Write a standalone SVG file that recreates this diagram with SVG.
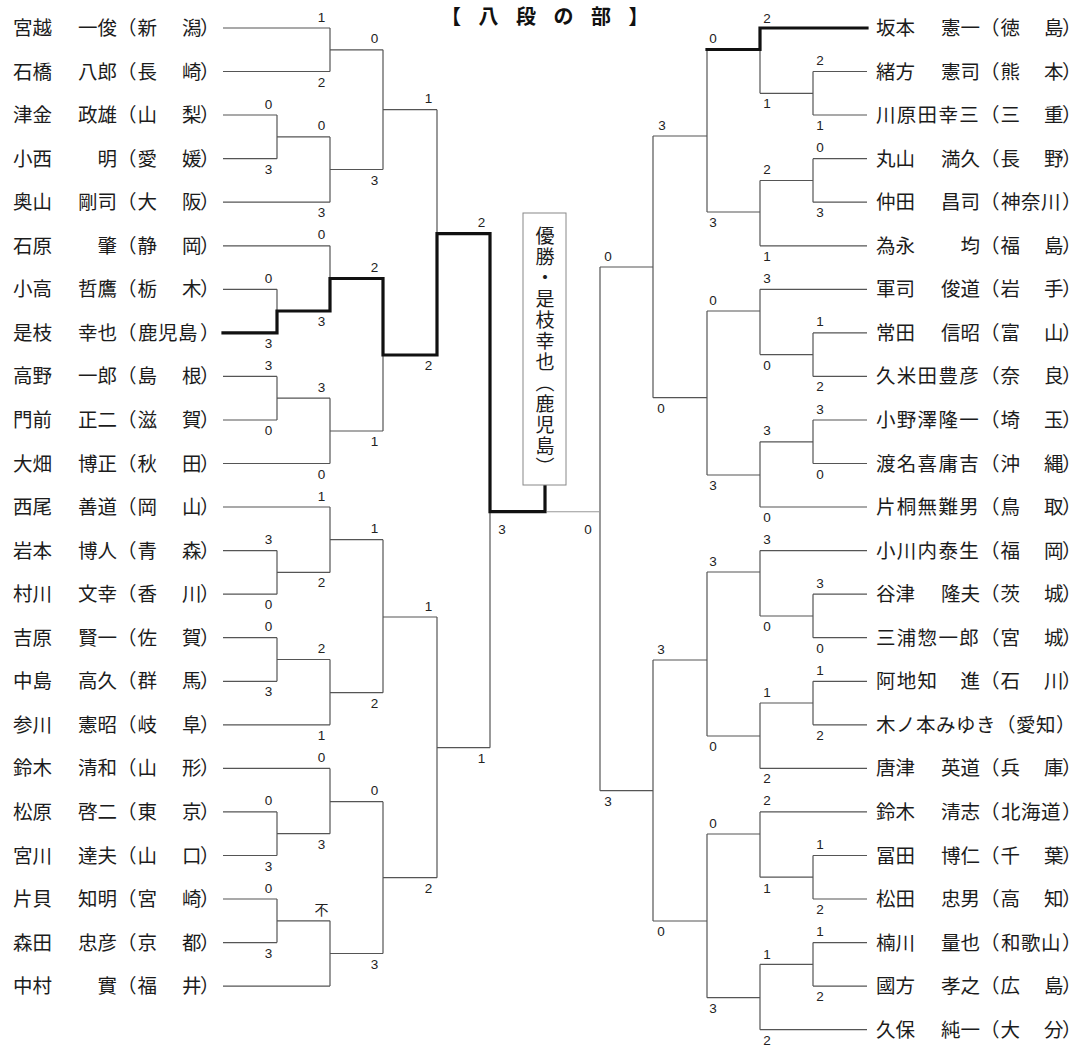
<svg xmlns="http://www.w3.org/2000/svg" width="1082" height="1048" viewBox="0 0 1082 1048">
<style>
.nm{font-family:"Noto Sans CJK JP","Noto Sans CJK SC",sans-serif;font-size:19.5px;fill:#1c1c1c}
.w5{letter-spacing:1.3px}
.p3{letter-spacing:0.5px}
.sc{font-family:"Liberation Sans",Arial,sans-serif;font-size:13.5px;fill:#222;text-anchor:middle}
.scj{font-family:"Noto Sans CJK JP",sans-serif;font-size:14px;fill:#222;text-anchor:middle}
.ln{fill:none;stroke:#555;stroke-width:1.2}
.fl{fill:none;stroke:#999;stroke-width:1.1}
.wn{fill:none;stroke:#111;stroke-width:3.2;stroke-linejoin:miter;stroke-linecap:square}
.ttl{font-family:"Noto Sans CJK JP",sans-serif;font-size:20px;font-weight:bold;fill:#111;letter-spacing:17.5px}
.chp{font-family:"Noto Sans CJK JP",sans-serif;font-size:19px;fill:#1c1c1c;writing-mode:vertical-rl;letter-spacing:2px}
</style>
<rect width="1082" height="1048" fill="#fff"/>
<g id="title"><text class="ttl" x="441" y="24">【八段の部】</text></g>

<g id="connectors">
<path class="ln" d="M223 28H330M223 71.5H330M330 28V71.5M330 49.8H383
M223 115H277M223 158.7H277M277 115V158.7M277 136.9H330
M223 202.2H330M330 136.9V202.2M330 169.5H383
M383 49.8V169.5M383 109.7H437
M223 245.8H330M330 245.8V278.5
M223 289.3H277M277 289.3V311
M437 109.7V233.7M383 355V431
M223 376.4H277M223 420H277M277 376.4V420M277 398.2H330
M223 463.5H330M330 398.2V463.5M330 431H383
M490 511.7V747.7
M223 507H330M223 550.6H277M223 594.2H277M277 550.6V594.2M277 572.4H330M330 507V572.4M330 539.7H383
M223 637.7H277M223 681.3H277M277 637.7V681.3M277 659.5H330M223 724.8H330M330 659.5V724.8M330 692.7H383
M383 539.7V692.7M383 617H437
M223 768.4H330M223 811.9H277M223 855.5H277M277 811.9V855.5M277 833.7H330M330 768.4V833.7M330 801.7H383
M223 899H277M223 942.6H277M277 899V942.6M277 920.8H330M223 986.1H330M330 920.8V986.1M330 953.5H383
M383 801.7V953.5M383 877.7H437
M437 617V877.7M437 747.7H490"/>
<path class="ln" d="M760 49.5V93.3
M867 71.5H813M867 115H813M813 71.5V115M813 93.3H760
M867 158.7H813M867 202.2H813M813 158.7V202.2M813 180.5H760M867 245.8H760M760 180.5V245.8M760 212H707
M707 49.5V212M707 136H653
M867 289.3H760M867 332.9H813M867 376.4H813M813 332.9V376.4M813 354.6H760M760 289.3V354.6M760 311H707
M867 420H813M867 463.5H813M813 420V463.5M813 441.8H760M867 507H760M760 441.8V507M760 475H707
M707 311V475M707 397.7H653
M653 136V397.7M653 267H600
M867 550.6H760M867 594.2H813M867 637.7H813M813 594.2V637.7M813 616H760M760 550.6V616M760 572H707
M867 681.3H813M867 724.8H813M813 681.3V724.8M813 703H760M867 768.4H760M760 703V768.4M760 736H707
M707 572V736M707 660H653
M867 811.9H760M867 855.5H813M867 899H813M813 855.5V899M813 877.2H760M760 811.9V877.2M760 834H707
M867 942.6H813M867 986.1H813M813 942.6V986.1M813 964.3H760M867 1029.7H760M760 964.3V1029.7M760 997.7H707
M707 834V997.7M707 921H653
M653 660V921M653 790.7H600
M600 267V790.7"/>
<path class="fl" d="M600 511.7H547"/>
<path class="wn" d="M223 332.9H277V311H330V278.5H383V355H437V233.7H490V511.7H545V486"/>
<path class="wn" d="M867 28H760V49.5H707"/>
</g>

<g id="scores">
<text class="sc" x="321.5" y="21.5">1</text>
<text class="sc" x="374.5" y="43.3">0</text>
<text class="sc" x="321.5" y="86.5">2</text>
<text class="sc" x="428.5" y="103.2">1</text>
<text class="sc" x="268.5" y="108.5">0</text>
<text class="sc" x="321.5" y="130.4">0</text>
<text class="sc" x="268.5" y="173.7">3</text>
<text class="sc" x="374.5" y="184.5">3</text>
<text class="sc" x="321.5" y="217.2">3</text>
<text class="sc" x="481.5" y="227.2">2</text>
<text class="sc" x="321.5" y="239.3">0</text>
<text class="sc" x="374.5" y="272">2</text>
<text class="sc" x="268.5" y="282.8">0</text>
<text class="sc" x="321.5" y="326">3</text>
<text class="sc" x="268.5" y="348">3</text>
<text class="sc" x="428.5" y="370">2</text>
<text class="sc" x="268.5" y="370">3</text>
<text class="sc" x="321.5" y="391.7">3</text>
<text class="sc" x="268.5" y="435">0</text>
<text class="sc" x="374.5" y="446">1</text>
<text class="sc" x="321.5" y="478.5">0</text>
<text class="sc" x="321.5" y="500.5">1</text>
<text class="sc" x="502" y="534">3</text>
<text class="sc" x="588" y="534">0</text>
<text class="sc" x="374.5" y="533.2">1</text>
<text class="sc" x="268.5" y="544">3</text>
<text class="sc" x="321.5" y="587.4">2</text>
<text class="sc" x="268.5" y="609.2">0</text>
<text class="sc" x="428.5" y="610.5">1</text>
<text class="sc" x="268.5" y="631.2">0</text>
<text class="sc" x="321.5" y="653">2</text>
<text class="sc" x="268.5" y="696.3">3</text>
<text class="sc" x="374.5" y="707.7">2</text>
<text class="sc" x="321.5" y="739.8">1</text>
<text class="sc" x="481.5" y="762.7">1</text>
<text class="sc" x="321.5" y="762">0</text>
<text class="sc" x="374.5" y="795">0</text>
<text class="sc" x="268.5" y="805.4">0</text>
<text class="sc" x="321.5" y="848.7">3</text>
<text class="sc" x="268.5" y="870.5">3</text>
<text class="sc" x="428.5" y="892.7">2</text>
<text class="sc" x="268.5" y="892.5">0</text>
<text class="scj" x="321.5" y="915">不</text>
<text class="sc" x="268.5" y="957.6">3</text>
<text class="sc" x="374.5" y="968.5">3</text>

<text class="sc" x="767" y="22.5">2</text>
<text class="sc" x="713" y="43">0</text>
<text class="sc" x="820" y="65">2</text>
<text class="sc" x="767" y="108">1</text>
<text class="sc" x="820" y="130">1</text>
<text class="sc" x="662" y="129.5">3</text>
<text class="sc" x="820" y="152">0</text>
<text class="sc" x="767" y="174">2</text>
<text class="sc" x="820" y="217">3</text>
<text class="sc" x="713" y="227">3</text>
<text class="sc" x="767" y="261">1</text>
<text class="sc" x="608" y="260.5">0</text>
<text class="sc" x="767" y="283">3</text>
<text class="sc" x="713" y="304.5">0</text>
<text class="sc" x="820" y="326">1</text>
<text class="sc" x="767" y="369.6">0</text>
<text class="sc" x="820" y="391">2</text>
<text class="sc" x="661" y="412.7">0</text>
<text class="sc" x="820" y="413.5">3</text>
<text class="sc" x="767" y="435">3</text>
<text class="sc" x="820" y="478.5">0</text>
<text class="sc" x="713" y="490">3</text>
<text class="sc" x="767" y="522">0</text>
<text class="sc" x="767" y="544">3</text>
<text class="sc" x="713" y="565.5">3</text>
<text class="sc" x="820" y="587.7">3</text>
<text class="sc" x="767" y="631">0</text>
<text class="sc" x="820" y="652.7">0</text>
<text class="sc" x="661" y="653.5">3</text>
<text class="sc" x="820" y="674.8">1</text>
<text class="sc" x="767" y="696.5">1</text>
<text class="sc" x="820" y="739.8">2</text>
<text class="sc" x="713" y="751">0</text>
<text class="sc" x="767" y="783.4">2</text>
<text class="sc" x="608" y="805.7">3</text>
<text class="sc" x="767" y="805.4">2</text>
<text class="sc" x="713" y="827.5">0</text>
<text class="sc" x="820" y="849">1</text>
<text class="sc" x="767" y="892.7">1</text>
<text class="sc" x="820" y="914">2</text>
<text class="sc" x="661" y="936">0</text>
<text class="sc" x="820" y="936">1</text>
<text class="sc" x="767" y="958.5">1</text>
<text class="sc" x="820" y="1001">2</text>
<text class="sc" x="713" y="1012.7">3</text>
<text class="sc" x="767" y="1044.7">2</text>
</g>

<g id="champion">
<rect x="523" y="213" width="43" height="272" fill="#fff" stroke="#888" stroke-width="1"/>
<text class="chp" x="545" y="226">優勝・是枝幸也（鹿児島）</text>
</g>

<g id="L01"><text class="nm" y="35"><tspan x="13">宮越</tspan><tspan x="78">一俊</tspan><tspan x="117">（</tspan><tspan x="137.5">新</tspan><tspan x="182">潟</tspan><tspan x="200">）</tspan></text></g>
<g id="L02"><text class="nm" y="78.5"><tspan x="13">石橋</tspan><tspan x="78">八郎</tspan><tspan x="117">（</tspan><tspan x="137.5">長</tspan><tspan x="182">崎</tspan><tspan x="200">）</tspan></text></g>
<g id="L03"><text class="nm" y="122"><tspan x="13">津金</tspan><tspan x="78">政雄</tspan><tspan x="117">（</tspan><tspan x="137.5">山</tspan><tspan x="182">梨</tspan><tspan x="200">）</tspan></text></g>
<g id="L04"><text class="nm" y="165.7"><tspan x="13">小西</tspan><tspan x="97.5">明</tspan><tspan x="117">（</tspan><tspan x="137.5">愛</tspan><tspan x="182">媛</tspan><tspan x="200">）</tspan></text></g>
<g id="L05"><text class="nm" y="209.2"><tspan x="13">奥山</tspan><tspan x="78">剛司</tspan><tspan x="117">（</tspan><tspan x="137.5">大</tspan><tspan x="182">阪</tspan><tspan x="200">）</tspan></text></g>
<g id="L06"><text class="nm" y="252.8"><tspan x="13">石原</tspan><tspan x="97.5">肇</tspan><tspan x="117">（</tspan><tspan x="137.5">静</tspan><tspan x="182">岡</tspan><tspan x="200">）</tspan></text></g>
<g id="L07"><text class="nm" y="296.3"><tspan x="13">小高</tspan><tspan x="78">哲鷹</tspan><tspan x="117">（</tspan><tspan x="137.5">栃</tspan><tspan x="182">木</tspan><tspan x="200">）</tspan></text></g>
<g id="L08"><text class="nm" y="339.9"><tspan x="13">是枝</tspan><tspan x="78">幸也</tspan><tspan x="117">（</tspan><tspan x="138" class="p3">鹿児島</tspan><tspan x="200">）</tspan></text></g>
<g id="L09"><text class="nm" y="383.4"><tspan x="13">高野</tspan><tspan x="78">一郎</tspan><tspan x="117">（</tspan><tspan x="137.5">島</tspan><tspan x="182">根</tspan><tspan x="200">）</tspan></text></g>
<g id="L10"><text class="nm" y="427"><tspan x="13">門前</tspan><tspan x="78">正二</tspan><tspan x="117">（</tspan><tspan x="137.5">滋</tspan><tspan x="182">賀</tspan><tspan x="200">）</tspan></text></g>
<g id="L11"><text class="nm" y="470.5"><tspan x="13">大畑</tspan><tspan x="78">博正</tspan><tspan x="117">（</tspan><tspan x="137.5">秋</tspan><tspan x="182">田</tspan><tspan x="200">）</tspan></text></g>
<g id="L12"><text class="nm" y="514"><tspan x="13">西尾</tspan><tspan x="78">善道</tspan><tspan x="117">（</tspan><tspan x="137.5">岡</tspan><tspan x="182">山</tspan><tspan x="200">）</tspan></text></g>
<g id="L13"><text class="nm" y="557.6"><tspan x="13">岩本</tspan><tspan x="78">博人</tspan><tspan x="117">（</tspan><tspan x="137.5">青</tspan><tspan x="182">森</tspan><tspan x="200">）</tspan></text></g>
<g id="L14"><text class="nm" y="601.2"><tspan x="13">村川</tspan><tspan x="78">文幸</tspan><tspan x="117">（</tspan><tspan x="137.5">香</tspan><tspan x="182">川</tspan><tspan x="200">）</tspan></text></g>
<g id="L15"><text class="nm" y="644.7"><tspan x="13">吉原</tspan><tspan x="78">賢一</tspan><tspan x="117">（</tspan><tspan x="137.5">佐</tspan><tspan x="182">賀</tspan><tspan x="200">）</tspan></text></g>
<g id="L16"><text class="nm" y="688.3"><tspan x="13">中島</tspan><tspan x="78">高久</tspan><tspan x="117">（</tspan><tspan x="137.5">群</tspan><tspan x="182">馬</tspan><tspan x="200">）</tspan></text></g>
<g id="L17"><text class="nm" y="731.8"><tspan x="13">参川</tspan><tspan x="78">憲昭</tspan><tspan x="117">（</tspan><tspan x="137.5">岐</tspan><tspan x="182">阜</tspan><tspan x="200">）</tspan></text></g>
<g id="L18"><text class="nm" y="775.4"><tspan x="13">鈴木</tspan><tspan x="78">清和</tspan><tspan x="117">（</tspan><tspan x="137.5">山</tspan><tspan x="182">形</tspan><tspan x="200">）</tspan></text></g>
<g id="L19"><text class="nm" y="818.9"><tspan x="13">松原</tspan><tspan x="78">啓二</tspan><tspan x="117">（</tspan><tspan x="137.5">東</tspan><tspan x="182">京</tspan><tspan x="200">）</tspan></text></g>
<g id="L20"><text class="nm" y="862.5"><tspan x="13">宮川</tspan><tspan x="78">達夫</tspan><tspan x="117">（</tspan><tspan x="137.5">山</tspan><tspan x="182">口</tspan><tspan x="200">）</tspan></text></g>
<g id="L21"><text class="nm" y="906"><tspan x="13">片貝</tspan><tspan x="78">知明</tspan><tspan x="117">（</tspan><tspan x="137.5">宮</tspan><tspan x="182">崎</tspan><tspan x="200">）</tspan></text></g>
<g id="L22"><text class="nm" y="949.6"><tspan x="13">森田</tspan><tspan x="78">忠彦</tspan><tspan x="117">（</tspan><tspan x="137.5">京</tspan><tspan x="182">都</tspan><tspan x="200">）</tspan></text></g>
<g id="L23"><text class="nm" y="993.1"><tspan x="13">中村</tspan><tspan x="97.5">實</tspan><tspan x="117">（</tspan><tspan x="137.5">福</tspan><tspan x="182">井</tspan><tspan x="200">）</tspan></text></g>

<g id="R01"><text class="nm" y="35"><tspan x="876">坂本</tspan><tspan x="941">憲一</tspan><tspan x="980">（</tspan><tspan x="1000.5">徳</tspan><tspan x="1044">島</tspan><tspan x="1062">）</tspan></text></g>
<g id="R02"><text class="nm" y="78.5"><tspan x="876">緒方</tspan><tspan x="941">憲司</tspan><tspan x="980">（</tspan><tspan x="1000.5">熊</tspan><tspan x="1044">本</tspan><tspan x="1062">）</tspan></text></g>
<g id="R03"><text class="nm" y="122"><tspan x="876" class="w5">川原田幸三</tspan><tspan x="980">（</tspan><tspan x="1000.5">三</tspan><tspan x="1044">重</tspan><tspan x="1062">）</tspan></text></g>
<g id="R04"><text class="nm" y="165.7"><tspan x="876">丸山</tspan><tspan x="941">満久</tspan><tspan x="980">（</tspan><tspan x="1000.5">長</tspan><tspan x="1044">野</tspan><tspan x="1062">）</tspan></text></g>
<g id="R05"><text class="nm" y="209.2"><tspan x="876">仲田</tspan><tspan x="941">昌司</tspan><tspan x="980">（</tspan><tspan x="1001" class="p3">神奈川</tspan><tspan x="1062">）</tspan></text></g>
<g id="R06"><text class="nm" y="252.8"><tspan x="876">為永</tspan><tspan x="960.5">均</tspan><tspan x="980">（</tspan><tspan x="1000.5">福</tspan><tspan x="1044">島</tspan><tspan x="1062">）</tspan></text></g>
<g id="R07"><text class="nm" y="296.3"><tspan x="876">軍司</tspan><tspan x="941">俊道</tspan><tspan x="980">（</tspan><tspan x="1000.5">岩</tspan><tspan x="1044">手</tspan><tspan x="1062">）</tspan></text></g>
<g id="R08"><text class="nm" y="339.9"><tspan x="876">常田</tspan><tspan x="941">信昭</tspan><tspan x="980">（</tspan><tspan x="1000.5">富</tspan><tspan x="1044">山</tspan><tspan x="1062">）</tspan></text></g>
<g id="R09"><text class="nm" y="383.4"><tspan x="876" class="w5">久米田豊彦</tspan><tspan x="980">（</tspan><tspan x="1000.5">奈</tspan><tspan x="1044">良</tspan><tspan x="1062">）</tspan></text></g>
<g id="R10"><text class="nm" y="427"><tspan x="876" class="w5">小野澤隆一</tspan><tspan x="980">（</tspan><tspan x="1000.5">埼</tspan><tspan x="1044">玉</tspan><tspan x="1062">）</tspan></text></g>
<g id="R11"><text class="nm" y="470.5"><tspan x="876" class="w5">渡名喜庸吉</tspan><tspan x="980">（</tspan><tspan x="1000.5">沖</tspan><tspan x="1044">縄</tspan><tspan x="1062">）</tspan></text></g>
<g id="R12"><text class="nm" y="514"><tspan x="876" class="w5">片桐無難男</tspan><tspan x="980">（</tspan><tspan x="1000.5">鳥</tspan><tspan x="1044">取</tspan><tspan x="1062">）</tspan></text></g>
<g id="R13"><text class="nm" y="557.6"><tspan x="876" class="w5">小川内泰生</tspan><tspan x="980">（</tspan><tspan x="1000.5">福</tspan><tspan x="1044">岡</tspan><tspan x="1062">）</tspan></text></g>
<g id="R14"><text class="nm" y="601.2"><tspan x="876">谷津</tspan><tspan x="941">隆夫</tspan><tspan x="980">（</tspan><tspan x="1000.5">茨</tspan><tspan x="1044">城</tspan><tspan x="1062">）</tspan></text></g>
<g id="R15"><text class="nm" y="644.7"><tspan x="876" class="w5">三浦惣一郎</tspan><tspan x="980">（</tspan><tspan x="1000.5">宮</tspan><tspan x="1044">城</tspan><tspan x="1062">）</tspan></text></g>
<g id="R16"><text class="nm" y="688.3"><tspan x="876" class="w5">阿地知</tspan><tspan x="960.5">進</tspan><tspan x="980">（</tspan><tspan x="1000.5">石</tspan><tspan x="1044">川</tspan><tspan x="1062">）</tspan></text></g>
<g id="R17"><text class="nm" y="731.8"><tspan x="876" class="p3">木ノ本みゆき</tspan><tspan x="996" class="p3">（愛知）</tspan></text></g>
<g id="R18"><text class="nm" y="775.4"><tspan x="876">唐津</tspan><tspan x="941">英道</tspan><tspan x="980">（</tspan><tspan x="1000.5">兵</tspan><tspan x="1044">庫</tspan><tspan x="1062">）</tspan></text></g>
<g id="R19"><text class="nm" y="818.9"><tspan x="876">鈴木</tspan><tspan x="941">清志</tspan><tspan x="980">（</tspan><tspan x="1001" class="p3">北海道</tspan><tspan x="1062">）</tspan></text></g>
<g id="R20"><text class="nm" y="862.5"><tspan x="876">冨田</tspan><tspan x="941">博仁</tspan><tspan x="980">（</tspan><tspan x="1000.5">千</tspan><tspan x="1044">葉</tspan><tspan x="1062">）</tspan></text></g>
<g id="R21"><text class="nm" y="906"><tspan x="876">松田</tspan><tspan x="941">忠男</tspan><tspan x="980">（</tspan><tspan x="1000.5">高</tspan><tspan x="1044">知</tspan><tspan x="1062">）</tspan></text></g>
<g id="R22"><text class="nm" y="949.6"><tspan x="876">楠川</tspan><tspan x="941">量也</tspan><tspan x="980">（</tspan><tspan x="1001" class="p3">和歌山</tspan><tspan x="1062">）</tspan></text></g>
<g id="R23"><text class="nm" y="993.1"><tspan x="876">國方</tspan><tspan x="941">孝之</tspan><tspan x="980">（</tspan><tspan x="1000.5">広</tspan><tspan x="1044">島</tspan><tspan x="1062">）</tspan></text></g>
<g id="R24"><text class="nm" y="1036.7"><tspan x="876">久保</tspan><tspan x="941">純一</tspan><tspan x="980">（</tspan><tspan x="1000.5">大</tspan><tspan x="1044">分</tspan><tspan x="1062">）</tspan></text></g>
</svg>
